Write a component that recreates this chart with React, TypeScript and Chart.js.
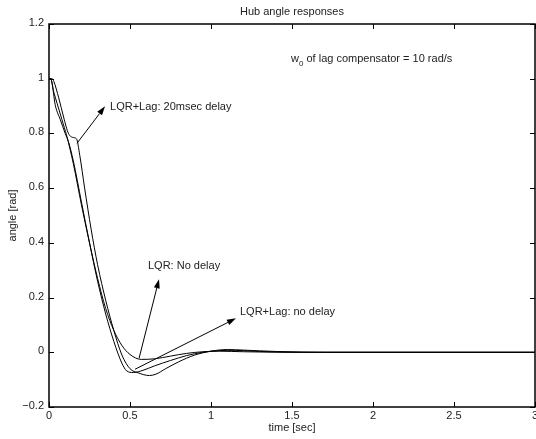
import { useEffect, useRef } from "react";
import { Chart, registerables } from "chart.js";
Chart.register(...registerables);

// LQR, no delay
const lqrT = [0, 0.01, 0.03, 0.05, 0.08, 0.11, 0.15, 0.2, 0.25, 0.3, 0.35, 0.4, 0.45, 0.5, 0.57, 0.65, 0.75, 0.85, 0.95, 1.05, 1.2, 1.5, 2, 2.5, 3];
const lqrY = [1.0, 1.0, 0.95, 0.91, 0.85, 0.79, 0.69, 0.54, 0.4, 0.27, 0.16, 0.08, 0.025, -0.008, -0.026, -0.024, -0.014, -0.004, 0.002, 0.004, 0.002, 0, 0, 0, 0];
// LQR + Lag, no delay
const lagT = [0, 0.01, 0.04, 0.07, 0.1, 0.12, 0.15, 0.2, 0.25, 0.3, 0.35, 0.4, 0.45, 0.48, 0.52, 0.58, 0.65, 0.75, 0.85, 0.95, 1.05, 1.15, 1.3, 1.6, 2, 2.5, 3];
const lagY = [1.0, 1.0, 0.9, 0.85, 0.8, 0.77, 0.7, 0.55, 0.4, 0.26, 0.14, 0.04, -0.04, -0.068, -0.074, -0.066, -0.05, -0.03, -0.012, 0.0, 0.006, 0.007, 0.003, 0, 0, 0, 0];
// LQR + Lag, 20 msec delay
const delayT = [0, 0.02, 0.03, 0.06, 0.09, 0.12, 0.15, 0.17, 0.19, 0.22, 0.26, 0.3, 0.35, 0.4, 0.45, 0.5, 0.55, 0.62, 0.66, 0.72, 0.8, 0.9, 1.0, 1.1, 1.2, 1.4, 1.7, 2, 2.5, 3];
const delayY = [1.0, 1.0, 0.99, 0.93, 0.86, 0.8, 0.785, 0.78, 0.72, 0.6, 0.45, 0.32, 0.19, 0.08, -0.01, -0.06, -0.075, -0.085, -0.08, -0.06, -0.035, -0.01, 0.004, 0.01, 0.008, 0.003, 0, 0, 0, 0];

const xTicks = [0, 0.5, 1, 1.5, 2, 2.5, 3];
const xTickLabels = ["0", "0.5", "1", "1.5", "2", "2.5", "3"];
const yTicks = [-0.2, 0, 0.2, 0.4, 0.6, 0.8, 1, 1.2];
const yTickLabels = ["\u22120.2", "0", "0.2", "0.4", "0.6", "0.8", "1", "1.2"];

const titleText = "Hub angle responses";
const xTitle = "time [sec]";
const yTitle = "angle [rad]";

// annotations: [text, textX, textY, arrowTailX, arrowTailY, arrowHeadX, arrowHeadY]
const annotTexts = ["LQR+Lag: 20msec delay", "LQR: No delay", "LQR+Lag: no delay"];
const annotTextPos = [[0.377, 0.896], [0.611, 0.314], [1.179, 0.146]];
const annotTail = [[0.173, 0.764], [0.556, -0.022], [0.531, -0.062]];
const annotHead = [[0.346, 0.899], [0.679, 0.267], [1.154, 0.124]];
const noteMain = "w";
const noteSub = "0";
const noteRest = " of lag compensator = 10 rad/s";
const notePos = [1.494, 1.071];

const FONT = "Liberation Sans, Arial, Helvetica, sans-serif";

function toPts(t: number[], y: number[]) {
  return t.map((v, i) => ({ x: v, y: y[i] }));
}

const decor = {
  id: "decor",
  afterDraw(chart: any) {
    const { ctx, chartArea: a, scales } = chart;
    const xs = scales.x, ys = scales.y;
    ctx.save();
    ctx.strokeStyle = "#000";
    ctx.fillStyle = "#000";
    // box
    ctx.lineWidth = 1.5;
    ctx.strokeRect(a.left, a.top, a.right - a.left, a.bottom - a.top);
    // ticks
    ctx.lineWidth = 1;
    const tl = 5;
    ctx.beginPath();
    xTicks.forEach((v) => {
      const px = Math.round(xs.getPixelForValue(v)) + 0.5;
      ctx.moveTo(px, a.bottom); ctx.lineTo(px, a.bottom - tl);
      ctx.moveTo(px, a.top); ctx.lineTo(px, a.top + tl);
    });
    yTicks.forEach((v) => {
      const py = Math.round(ys.getPixelForValue(v)) + 0.5;
      ctx.moveTo(a.left, py); ctx.lineTo(a.left + tl, py);
      ctx.moveTo(a.right, py); ctx.lineTo(a.right - tl, py);
    });
    ctx.stroke();
    // tick labels
    ctx.font = `11px ${FONT}`;
    ctx.fillStyle = "#222";
    ctx.textAlign = "center";
    ctx.textBaseline = "top";
    xTicks.forEach((v, i) => {
      ctx.fillText(xTickLabels[i], xs.getPixelForValue(v), a.bottom + 3);
    });
    ctx.textAlign = "right";
    ctx.textBaseline = "middle";
    yTicks.forEach((v, i) => {
      ctx.fillText(yTickLabels[i], a.left - 5, ys.getPixelForValue(v) - 1);
    });
    // titles
    ctx.textAlign = "center";
    ctx.textBaseline = "middle";
    ctx.fillText(titleText, (a.left + a.right) / 2, 12);
    ctx.fillText(xTitle, (a.left + a.right) / 2, 428);
    ctx.save();
    ctx.translate(13, (a.top + a.bottom) / 2);
    ctx.rotate(-Math.PI / 2);
    ctx.fillText(yTitle, 0, 0);
    ctx.restore();
    // annotations
    ctx.textAlign = "left";
    annotTexts.forEach((txt, i) => {
      ctx.fillStyle = "#222";
      ctx.fillText(txt, xs.getPixelForValue(annotTextPos[i][0]), ys.getPixelForValue(annotTextPos[i][1]));
      const x0 = xs.getPixelForValue(annotTail[i][0]), y0 = ys.getPixelForValue(annotTail[i][1]);
      const x1 = xs.getPixelForValue(annotHead[i][0]), y1 = ys.getPixelForValue(annotHead[i][1]);
      const ang = Math.atan2(y1 - y0, x1 - x0);
      const hl = 9, hw = 3;
      const bx = x1 - hl * Math.cos(ang), by = y1 - hl * Math.sin(ang);
      ctx.strokeStyle = "#000";
      ctx.fillStyle = "#000";
      ctx.lineWidth = 1;
      ctx.beginPath();
      ctx.moveTo(x0, y0); ctx.lineTo(bx, by);
      ctx.stroke();
      ctx.beginPath();
      ctx.moveTo(x1, y1);
      ctx.lineTo(bx + hw * Math.sin(ang), by - hw * Math.cos(ang));
      ctx.lineTo(bx - hw * Math.sin(ang), by + hw * Math.cos(ang));
      ctx.closePath();
      ctx.fill();
    });
    // w0 note
    ctx.fillStyle = "#222";
    const nx = xs.getPixelForValue(notePos[0]);
    const ny = ys.getPixelForValue(notePos[1]);
    ctx.font = `11px ${FONT}`;
    ctx.fillText(noteMain, nx, ny);
    const w1 = ctx.measureText(noteMain).width;
    ctx.font = `8px ${FONT}`;
    ctx.fillText(noteSub, nx + w1, ny + 5);
    const w2 = ctx.measureText(noteSub).width;
    ctx.font = `11px ${FONT}`;
    ctx.fillText(noteRest, nx + w1 + w2, ny);
    ctx.restore();
  },
};

export default function App() {
  const ref = useRef<HTMLCanvasElement>(null);
  useEffect(() => {
    if (!ref.current) return;
    const common = {
      borderColor: "#000",
      borderWidth: 1,
      pointRadius: 0,
      fill: false,
      cubicInterpolationMode: "monotone" as const,
    };
    const chart = new Chart(ref.current, {
      type: "line",
      data: {
        datasets: [
          { label: "LQR: No delay", data: toPts(lqrT, lqrY), ...common },
          { label: "LQR+Lag: no delay", data: toPts(lagT, lagY), ...common },
          { label: "LQR+Lag: 20msec delay", data: toPts(delayT, delayY), ...common },
        ],
      },
      options: {
        responsive: false,
        animation: false,
        layout: { padding: { top: 24, right: 1, left: 0, bottom: 0 } },
        plugins: { legend: { display: false }, title: { display: false }, tooltip: { enabled: false } },
        scales: {
          x: {
            type: "linear",
            min: 0,
            max: 3,
            ticks: { display: false },
            grid: { display: false },
            border: { display: false },
            afterFit: (s: any) => { s.height = 32; },
          },
          y: {
            type: "linear",
            min: -0.2,
            max: 1.2,
            ticks: { display: false },
            grid: { display: false },
            border: { display: false },
            afterFit: (s: any) => { s.width = 49; },
          },
        },
      },
      plugins: [decor],
    });
    return () => chart.destroy();
  }, []);
  return (
    <div style={{ position: "fixed", left: 0, top: 0, width: 536, height: 439, background: "#fff" }}>
      <canvas ref={ref} width={536} height={439} style={{ display: "block" }} />
    </div>
  );
}
